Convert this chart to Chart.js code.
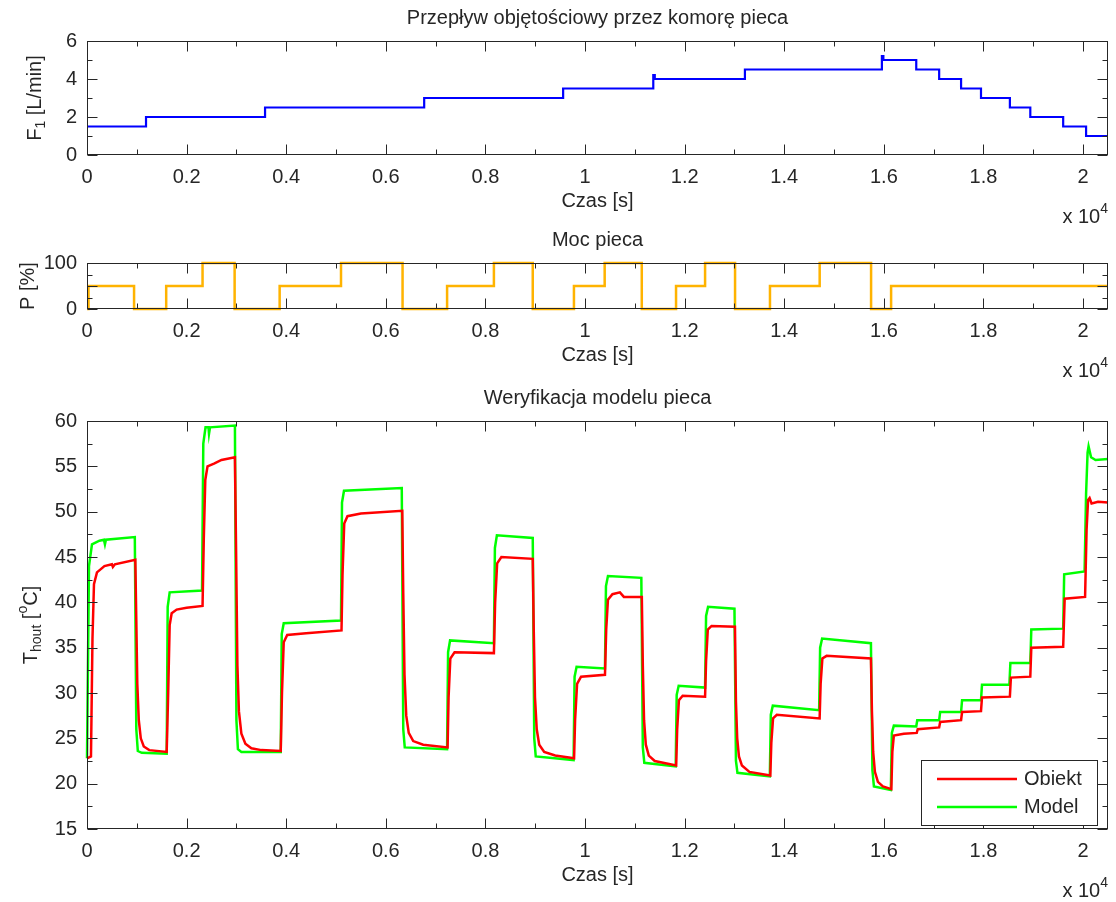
<!DOCTYPE html>
<html lang="pl">
<head>
<meta charset="UTF-8">
<title>Weryfikacja modelu pieca</title>
<script src="https://cdn.jsdelivr.net/npm/chart.js"></script>
<style>
  html, body { margin: 0; padding: 0; background: #fff; }
  #wrap { position: relative; width: 1116px; height: 902px; }
  canvas { position: absolute; left: 0; }
</style>
</head>
<body>
<div id="wrap">
  <canvas id="c1" width="1116" height="230" style="top:0"></canvas>
  <canvas id="c2" width="1116" height="150" style="top:230px"></canvas>
  <canvas id="c3" width="1116" height="522" style="top:380px"></canvas>
</div>
<script>
// time axis (s), labels shown in units of 10^4 s
const xTickLabels = ['0', '0.2', '0.4', '0.6', '0.8', '1', '1.2', '1.4', '1.6', '1.8', '2'];
const xTickVals = xTickLabels.map(s => Math.round(parseFloat(s) * 1e4));
const xMinorVals = [1000, 3000, 5000, 7000, 9000, 11000, 13000, 15000, 17000, 19000];
const X_MAX = 20500;

// F1 [L/min] - flow steps
const flowT = [0, 1185, 3575, 6770, 9560, 11370, 11400, 13210, 15960, 15990, 16650, 17110, 17550, 17950, 18530, 18940, 19600, 20060, 20500];
const flowV = [1.5, 2.0, 2.5, 3.0, 3.5, 4.2, 4.0, 4.5, 5.2, 5.0, 4.5, 4.0, 3.5, 3.0, 2.5, 2.0, 1.5, 1.0, 1.0];
const flowTicks = [0, 2, 4, 6];
const flowMinor = [1, 3, 5];

// P [%] - heater power
const powerT = [0, 30, 945, 1590, 2320, 2964, 3868, 5100, 6336, 7230, 8170, 8950, 9777, 10394, 11139, 11827, 12410, 13012, 13713, 14711, 15743, 16145, 20500];
const powerV = [0, 50, 0, 50, 100, 0, 50, 100, 0, 50, 100, 0, 50, 100, 0, 50, 100, 0, 50, 100, 0, 50, 50];
const powerTicks = [0, 50, 100];
const powerMinor = [25, 75];

// T_hout [°C] - model
const modelT = [0, 40, 100, 250, 340, 360, 380, 960, 990, 1020, 1100, 1600, 1620, 1660, 2310, 2335, 2380, 2440, 2450, 2470, 2970,
  3000, 3030, 3100, 3890, 3910, 3950, 5100, 5120, 5160, 6320, 6350, 6380, 7230, 7250, 7290, 8170, 8190, 8230, 8950, 8980, 9010,
  9770, 9790, 9830, 10400, 10420, 10460, 11130, 11160, 11190, 11820, 11840, 11880, 12410, 12430, 12470, 13000, 13030, 13060,
  13710, 13730, 13770, 14700, 14720, 14760, 15740, 15770, 15800, 16140, 16160, 16200, 16650, 16670, 17110, 17130, 17550, 17570,
  17950, 17970, 18520, 18540, 18940, 18960, 19600, 19620, 20030, 20060, 20090, 20110, 20160, 20250, 20500];
const modelY = [22.8, 44.0, 46.4, 46.8, 46.9, 46.4, 46.9, 47.2, 26.0, 23.6, 23.4, 23.3, 39.5, 41.1, 41.3, 57.5, 59.3, 59.3, 58.6, 59.3, 59.5,
  27.0, 23.8, 23.5, 23.5, 36.5, 37.7, 38.0, 51.0, 52.3, 52.6, 26.0, 24.0, 23.8, 34.5, 35.8, 35.5, 46.0, 47.4, 47.1, 25.0, 23.0,
  22.6, 31.8, 32.9, 32.7, 41.8, 42.9, 42.7, 24.0, 22.3, 21.9, 29.8, 30.8, 30.6, 38.5, 39.5, 39.3, 22.5, 21.2,
  20.8, 27.6, 28.6, 28.1, 35.0, 36.0, 35.5, 21.5, 19.7, 19.3, 25.6, 26.4, 26.3, 27.0, 27.0, 27.9, 27.9, 29.2,
  29.2, 30.9, 30.9, 33.3, 33.3, 37.0, 37.1, 43.1, 43.4, 52.0, 56.5, 57.2, 56.0, 55.7, 55.8];

// T_hout [°C] - measured object
const obiektT = [0, 80, 110, 140, 200, 350, 500, 520, 560, 970, 990, 1010, 1040, 1080, 1140, 1250, 1600, 1630, 1660, 1700, 1800, 2000,
  2320, 2345, 2375, 2420, 2550, 2700, 2970, 2995, 3020, 3050, 3100, 3180, 3300, 3500, 3890, 3915, 3950, 4020, 4400, 5110, 5130,
  5165, 5230, 5500, 6330, 6350, 6375, 6410, 6460, 6550, 6750, 7240, 7260, 7295, 7380, 8170, 8195, 8235, 8320, 8950, 8970, 8995,
  9030, 9080, 9180, 9400, 9780, 9800, 9840, 9920, 10400, 10425, 10460, 10550, 10700, 10780, 11140, 11160, 11185, 11220, 11280,
  11400, 11830, 11850, 11885, 11960, 12410, 12430, 12465, 12540, 13010, 13030, 13055, 13090, 13150, 13300, 13720, 13740, 13775,
  13850, 14710, 14730, 14765, 14850, 15740, 15760, 15785, 15820, 15880, 15980, 16150, 16170, 16200, 16400, 16660, 16680, 17110,
  17130, 17550, 17570, 17950, 17970, 18530, 18550, 18940, 18960, 19600, 19630, 20040, 20070, 20100, 20130, 20170, 20300, 20500];
const obiektY = [22.8, 23.0, 36.0, 42.0, 43.3, 44.0, 44.2, 43.9, 44.2, 44.7, 38.0, 31.0, 27.0, 25.0, 24.1, 23.7, 23.5, 30.0, 37.5, 38.8, 39.2, 39.4,
  39.6, 47.0, 53.5, 55.0, 55.3, 55.7, 56.0, 45.0, 33.0, 28.0, 25.5, 24.4, 23.9, 23.7, 23.6, 30.0, 35.6, 36.4, 36.6, 36.9, 43.0,
  48.7, 49.5, 49.8, 50.1, 41.0, 32.0, 27.5, 25.6, 24.7, 24.3, 24.0, 29.5, 33.8, 34.5, 34.4, 40.0, 44.3, 45.0, 44.8, 37.0, 29.5,
  26.0, 24.3, 23.5, 23.1, 22.8, 27.0, 31.0, 31.8, 32.0, 37.0, 40.3, 40.9, 41.1, 40.6, 40.6, 33.0, 27.0, 24.3, 23.1,
  22.5, 22.0, 26.0, 29.2, 29.7, 29.6, 33.5, 37.0, 37.4, 37.3, 29.0, 25.0, 23.0, 22.0, 21.3, 20.9, 24.5, 27.2,
  27.6, 27.2, 31.0, 33.8, 34.1, 33.8, 28.0, 23.5, 21.3, 20.2, 19.7, 19.4, 23.5, 25.3, 25.5, 25.6, 26.0, 26.2,
  26.8, 27.0, 27.9, 28.0, 29.5, 29.6, 31.7, 31.8, 35.0, 35.1, 40.4, 40.6, 48.0, 51.3, 51.5, 50.9, 51.1, 51.0];
const tempTicks = [15, 20, 25, 30, 35, 40, 45, 50, 55, 60];
const tempMinor = [17.5, 22.5, 27.5, 32.5, 37.5, 42.5, 47.5, 52.5, 57.5];

const FONT = '"Liberation Sans", Arial, sans-serif';
const FS = 20;
const INK = '#262626';

function toPoints(t, v) {
  return t.map((x, i) => ({ x: x, y: v[i] }));
}

function drawRich(ctx, parts, x, y, align, rotated) {
  ctx.save();
  ctx.translate(x, y);
  if (rotated) ctx.rotate(-Math.PI / 2);
  let w = 0;
  parts.forEach(p => {
    ctx.font = (p.sub || p.sup ? Math.round(FS * 0.72) : FS) + 'px ' + FONT;
    p.w = ctx.measureText(p.t).width;
    w += p.w;
  });
  let cx = align === 'right' ? -w : align === 'center' ? -w / 2 : 0;
  ctx.fillStyle = INK;
  ctx.textBaseline = 'middle';
  ctx.textAlign = 'left';
  parts.forEach(p => {
    ctx.font = (p.sub || p.sup ? Math.round(FS * 0.72) : FS) + 'px ' + FONT;
    const dy = p.sub ? FS * 0.32 : p.sup ? -FS * 0.4 : 0;
    ctx.fillText(p.t, cx, dy);
    cx += p.w;
  });
  ctx.restore();
}

// MATLAB style box, inward ticks and texts
function framePlugin(cfg) {
  return {
    id: 'frame',
    afterDraw(chart) {
      const ctx = chart.ctx, a = chart.chartArea;
      const xs = chart.scales.x, ys = chart.scales.y;
      const L = Math.round(a.left) + 0.5, R = Math.round(a.right) - 0.5;
      const T = Math.round(a.top) + 0.5, B = Math.round(a.bottom) - 0.5;
      ctx.save();
      ctx.strokeStyle = INK;
      ctx.lineWidth = 1;
      ctx.strokeRect(L, T, R - L, B - T);
      ctx.beginPath();
      const xt = (vals, len) => vals.forEach(v => {
        const px = Math.round(xs.getPixelForValue(v)) + 0.5;
        ctx.moveTo(px, B); ctx.lineTo(px, B - len);
        ctx.moveTo(px, T); ctx.lineTo(px, T + len);
      });
      const yt = (vals, len) => vals.forEach(v => {
        const py = Math.round(ys.getPixelForValue(v)) + 0.5;
        ctx.moveTo(L, py); ctx.lineTo(L + len, py);
        ctx.moveTo(R, py); ctx.lineTo(R - len, py);
      });
      xt(xTickVals, 10); xt(xMinorVals, 5);
      yt(cfg.yTicks, 10); yt(cfg.yMinor, 5);
      ctx.stroke();

      const midX = (a.left + a.right) / 2;
      drawRich(ctx, [{ t: cfg.title }], midX, a.top - 23, 'center');
      drawRich(ctx, [{ t: 'Czas [s]' }], midX, a.bottom + 46, 'center');
      drawRich(ctx, [{ t: 'x 10' }, { t: '4', sup: true }], a.right, a.bottom + 62, 'right');
      drawRich(ctx, cfg.ylabel, cfg.ylabelX, (a.top + a.bottom) / 2, 'center', true);

      if (cfg.legend) {
        const lx = 921, ly = 380, lw = 176, lh = 65;
        ctx.fillStyle = '#fff';
        ctx.fillRect(lx, ly, lw, lh);
        ctx.strokeRect(lx + 0.5, ly + 0.5, lw, lh);
        cfg.legend.forEach((it, i) => {
          const yy = ly + 19 + i * 28;
          ctx.strokeStyle = it.color;
          ctx.lineWidth = 2.5;
          ctx.beginPath();
          ctx.moveTo(lx + 16, yy); ctx.lineTo(lx + 96, yy);
          ctx.stroke();
          drawRich(ctx, [{ t: it.label }], lx + 103, yy, 'left');
        });
      }
      ctx.restore();
    }
  };
}

function makeChart(id, datasets, cfg) {
  return new Chart(document.getElementById(id), {
    type: 'line',
    data: { datasets: datasets },
    options: {
      responsive: false,
      animation: false,
      layout: { padding: { left: 0, right: 8, top: cfg.top, bottom: 0 } },
      plugins: { legend: { display: false }, tooltip: { enabled: false } },
      scales: {
        x: {
          type: 'linear', min: 0, max: X_MAX,
          grid: { display: false, drawTicks: false },
          border: { display: false },
          afterBuildTicks: s => { s.ticks = xTickVals.map(v => ({ value: v })); },
          afterFit: s => { s.height = cfg.xh; },
          ticks: { padding: 10, color: INK, font: { family: FONT, size: FS }, maxRotation: 0,
                   callback: (v, i) => xTickLabels[i] }
        },
        y: {
          type: 'linear', min: cfg.yMin, max: cfg.yMax,
          grid: { display: false, drawTicks: false },
          border: { display: false },
          afterBuildTicks: s => { s.ticks = cfg.yTicks.map(v => ({ value: v })); },
          afterFit: s => { s.width = 87; },
          ticks: { padding: 10, color: INK, font: { family: FONT, size: FS }, callback: v => String(v) }
        }
      }
    },
    plugins: [framePlugin(cfg)]
  });
}

function lineDs(label, t, v, color, width, stepped) {
  return { label: label, data: toPoints(t, v), borderColor: color, borderWidth: width,
           pointRadius: 0, fill: false, tension: 0, stepped: stepped || false, clip: 3 };
}

makeChart('c1', [lineDs('F1', flowT, flowV, '#0000ff', 2.2, 'before')], {
  title: 'Przepływ objętościowy przez komorę pieca',
  ylabel: [{ t: 'F' }, { t: '1', sub: true }, { t: ' [L/min]' }], ylabelX: 35,
  top: 41, xh: 75, yMin: 0, yMax: 6, yTicks: flowTicks, yMinor: flowMinor
});

makeChart('c2', [lineDs('P', powerT, powerV, '#ffb300', 2.5, 'before')], {
  title: 'Moc pieca',
  ylabel: [{ t: 'P [%]' }], ylabelX: 28,
  top: 33, xh: 71, yMin: 0, yMax: 100, yTicks: powerTicks, yMinor: powerMinor
});

makeChart('c3', [
  lineDs('Obiekt', obiektT, obiektY, '#ff0000', 2.5),
  lineDs('Model', modelT, modelY, '#00ff00', 2.5)
], {
  title: 'Weryfikacja modelu pieca',
  ylabel: [{ t: 'T' }, { t: 'hout', sub: true }, { t: ' [' }, { t: 'o', sup: true }, { t: 'C]' }], ylabelX: 31,
  top: 41, xh: 73, yMin: 15, yMax: 60, yTicks: tempTicks, yMinor: tempMinor,
  legend: [{ label: 'Obiekt', color: '#ff0000' }, { label: 'Model', color: '#00ff00' }]
});
</script>
</body>
</html>
